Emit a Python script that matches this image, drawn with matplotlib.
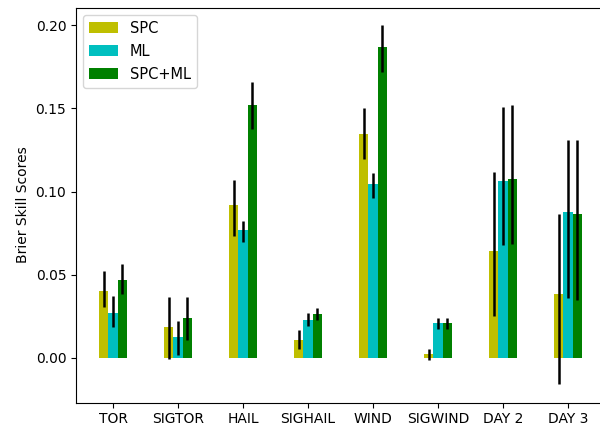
import matplotlib
matplotlib.use("Agg")
import matplotlib.pyplot as plt
import numpy as np

categories = ["TOR", "SIGTOR", "HAIL", "SIGHAIL", "WIND", "SIGWIND", "DAY 2", "DAY 3"]
series_names = ["SPC", "ML", "SPC+ML"]

spc = [0.0404, 0.0184, 0.0916, 0.0110, 0.1346, 0.0024, 0.0640, 0.0385]
spc_lo = [0.0308, -0.0006, 0.0730, 0.0056, 0.1195, -0.0010, 0.0250, -0.0158]
spc_hi = [0.0524, 0.0364, 0.1070, 0.0170, 0.1500, 0.0054, 0.1115, 0.0864]

ml = [0.0270, 0.0126, 0.0770, 0.0230, 0.1046, 0.0212, 0.1064, 0.0876]
ml_lo = [0.0186, 0.0020, 0.0698, 0.0192, 0.0962, 0.0174, 0.0680, 0.0360]
ml_hi = [0.0370, 0.0222, 0.0820, 0.0270, 0.1114, 0.0240, 0.1505, 0.1310]

both = [0.0466, 0.0242, 0.1520, 0.0262, 0.1870, 0.0212, 0.1078, 0.0864]
both_lo = [0.0386, 0.0110, 0.1375, 0.0226, 0.1720, 0.0174, 0.0686, 0.0350]
both_hi = [0.0562, 0.0364, 0.1660, 0.0300, 0.2000, 0.0240, 0.1523, 0.1310]

colors = ["y", "c", "g"]

fig = plt.figure(figsize=(6.0, 4.29), dpi=100)
ax = fig.add_axes([76/600, 1 - 402.5/429, 529/600, (402.5 - 7.5)/429])

x = np.arange(len(categories))
w = 0.14
data = [(spc, spc_lo, spc_hi), (ml, ml_lo, ml_hi), (both, both_lo, both_hi)]
for i, (vals, lo, hi) in enumerate(data):
    vals = np.array(vals)
    yerr = np.vstack([vals - np.array(lo), np.array(hi) - vals])
    ax.bar(x + (i - 1) * w, vals, w, color=colors[i], label=series_names[i],
           yerr=yerr, ecolor="k", error_kw=dict(elinewidth=1.8, capsize=0))

ax.set_xticks(x)
ax.set_xticklabels(categories)
ax.set_xlim(-0.57, 7.57)
ax.set_ylim(-0.0268, 0.2106)
ax.set_yticks([0.0, 0.05, 0.10, 0.15, 0.20])
ax.set_ylabel("Brier Skill Scores")
ax.legend(loc="upper left", prop={"size": 10.5}, labelspacing=0.55)

fig.savefig("out.png", dpi=100)
